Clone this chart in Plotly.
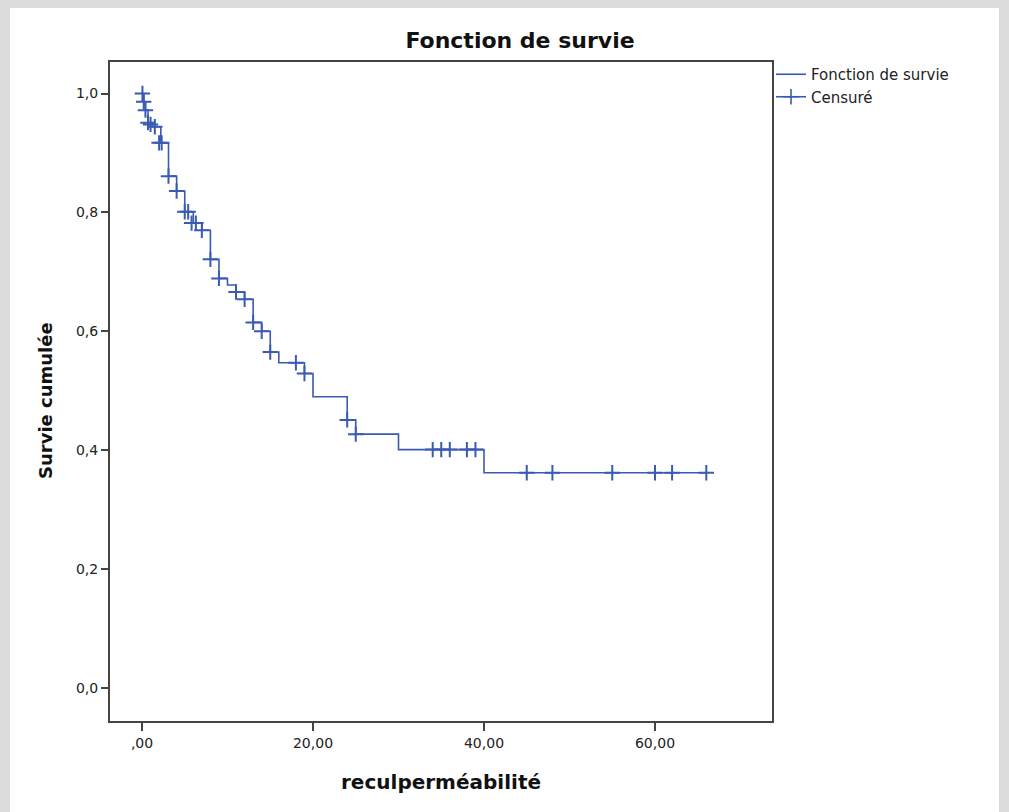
import plotly.graph_objects as go

# Kaplan-Meier step curve (time, cumulative survival after the step)
step_time = [0, 0.2, 0.4, 0.7, 1.2, 2.2, 3.1, 4.05, 5.0, 6.0, 7.0, 8.0, 9.0, 10.0, 11.0,
             12.0, 13.0, 14.0, 15.0, 16.0, 19.0, 20.0, 24.0, 25.0, 30.0, 40.0, 66.0]
step_surv = [1.0, 0.986, 0.972, 0.951, 0.944, 0.917, 0.861, 0.836, 0.801, 0.782, 0.770,
             0.721, 0.689, 0.678, 0.666, 0.654, 0.615, 0.600, 0.565, 0.547, 0.529, 0.490,
             0.451, 0.427, 0.401, 0.362, 0.362]

# Censored observations
cens_time = [0.05, 0.2, 0.4, 0.7, 1.0, 1.5, 2.0, 2.3, 3.1, 4.05, 5.0, 5.4, 5.8, 6.3, 7.0,
             8.0, 9.0, 11.0, 12.0, 13.0, 14.0, 15.0, 18.0, 19.0, 24.0, 25.0,
             34.0, 35.0, 36.0, 38.0, 39.0, 45.0, 48.0, 55.0, 60.0, 62.0, 66.0]
cens_surv = [1.0, 0.986, 0.972, 0.951, 0.948, 0.944, 0.917, 0.917, 0.861, 0.836, 0.801, 0.801,
             0.782, 0.782, 0.770, 0.721, 0.689, 0.666, 0.654, 0.615, 0.600, 0.565, 0.547,
             0.529, 0.451, 0.427, 0.401, 0.401, 0.401, 0.401, 0.401, 0.362, 0.362, 0.362,
             0.362, 0.362, 0.362]

x_tickvals = [0, 20, 40, 60]
x_ticktext = [",00", "20,00", "40,00", "60,00"]
y_tickvals = [0.0, 0.2, 0.4, 0.6, 0.8, 1.0]
y_ticktext = ["0,0", "0,2", "0,4", "0,6", "0,8", "1,0"]

BLUE = "#3a5ab4"
TXT = "#222222"
FONT = "DejaVu Sans"
BOLD = "DejaVu Sans"

fig = go.Figure()
fig.add_trace(go.Scatter(x=step_time, y=step_surv, mode="lines", line_shape="hv",
                         line=dict(color=BLUE, width=1.6), name="Fonction de survie"))
fig.add_trace(go.Scatter(x=cens_time, y=cens_surv, mode="markers", name="Censuré",
                         showlegend=False,
                         marker=dict(symbol="cross-thin", size=11,
                                     line=dict(color=BLUE, width=2), color=BLUE)))
# legend entry for censored marks (line with a cross, as in the original legend)
fig.add_trace(go.Scatter(x=[None], y=[None], mode="lines+markers", name="Censuré",
                         line=dict(color=BLUE, width=1.6),
                         marker=dict(symbol="cross-thin", size=11,
                                     line=dict(color=BLUE, width=1.6), color=BLUE)))

L, R, T, B = 110, 772, 62, 721
W, H = 1009, 812
pw, ph = R - L, B - T

def px(xp):
    return (xp - L) / pw

def py(yp):
    return (B - yp) / ph

fig.update_layout(
    width=W, height=H,
    margin=dict(l=L, r=W - R, t=T, b=H - B, pad=0),
    paper_bgcolor="#dcdcdc",
    plot_bgcolor="#f0f0f0",
    showlegend=True,
    legend=dict(x=px(771), y=py(58), xanchor="left", yanchor="top",
                font=dict(family=FONT, size=15, color=TXT),
                itemwidth=30, bgcolor="rgba(0,0,0,0)", tracegroupgap=0),
    title=dict(text="<b>Fonction de survie</b>", xref="paper", x=px(520), xanchor="center",
               yref="container", y=1 - 40 / H, yanchor="middle",
               font=dict(family=BOLD, size=22, color="#111111")),
    shapes=[dict(type="rect", xref="paper", yref="paper", layer="below",
                 x0=px(10), x1=px(999), y0=py(8), y1=py(830),
                 fillcolor="#ffffff", line=dict(width=0))],
    annotations=[
        dict(text="<b>reculperméabilité</b>", xref="paper", yref="paper",
             x=px(441), y=py(782), xanchor="center", yanchor="middle", showarrow=False,
             font=dict(family=BOLD, size=20, color="#111111")),
        dict(text="<b>Survie cumulée</b>", xref="paper", yref="paper", textangle=-90,
             x=px(45), y=py(401), xanchor="center", yanchor="middle", showarrow=False,
             font=dict(family=BOLD, size=18, color="#111111")),
    ],
)

fig.update_xaxes(range=[(L - 142) / 8.55, (R - 142) / 8.55], tickvals=x_tickvals,
                 ticktext=x_ticktext, ticks="outside", ticklen=8, tickwidth=2,
                 tickcolor="#444444", showline=True, linecolor="#444444", linewidth=2,
                 mirror=True, showgrid=False, zeroline=False,
                 tickfont=dict(family=FONT, size=14, color=TXT))
fig.update_yaxes(range=[-(B - 688) / 594.5, 1 + (93.5 - T) / 594.5], tickvals=y_tickvals,
                 ticktext=y_ticktext, ticks="outside", ticklen=7, tickwidth=2,
                 tickcolor="#444444", showline=True, linecolor="#444444", linewidth=2,
                 mirror=True, showgrid=False, zeroline=False,
                 tickfont=dict(family=FONT, size=14, color=TXT))

fig.write_html("out.html")
